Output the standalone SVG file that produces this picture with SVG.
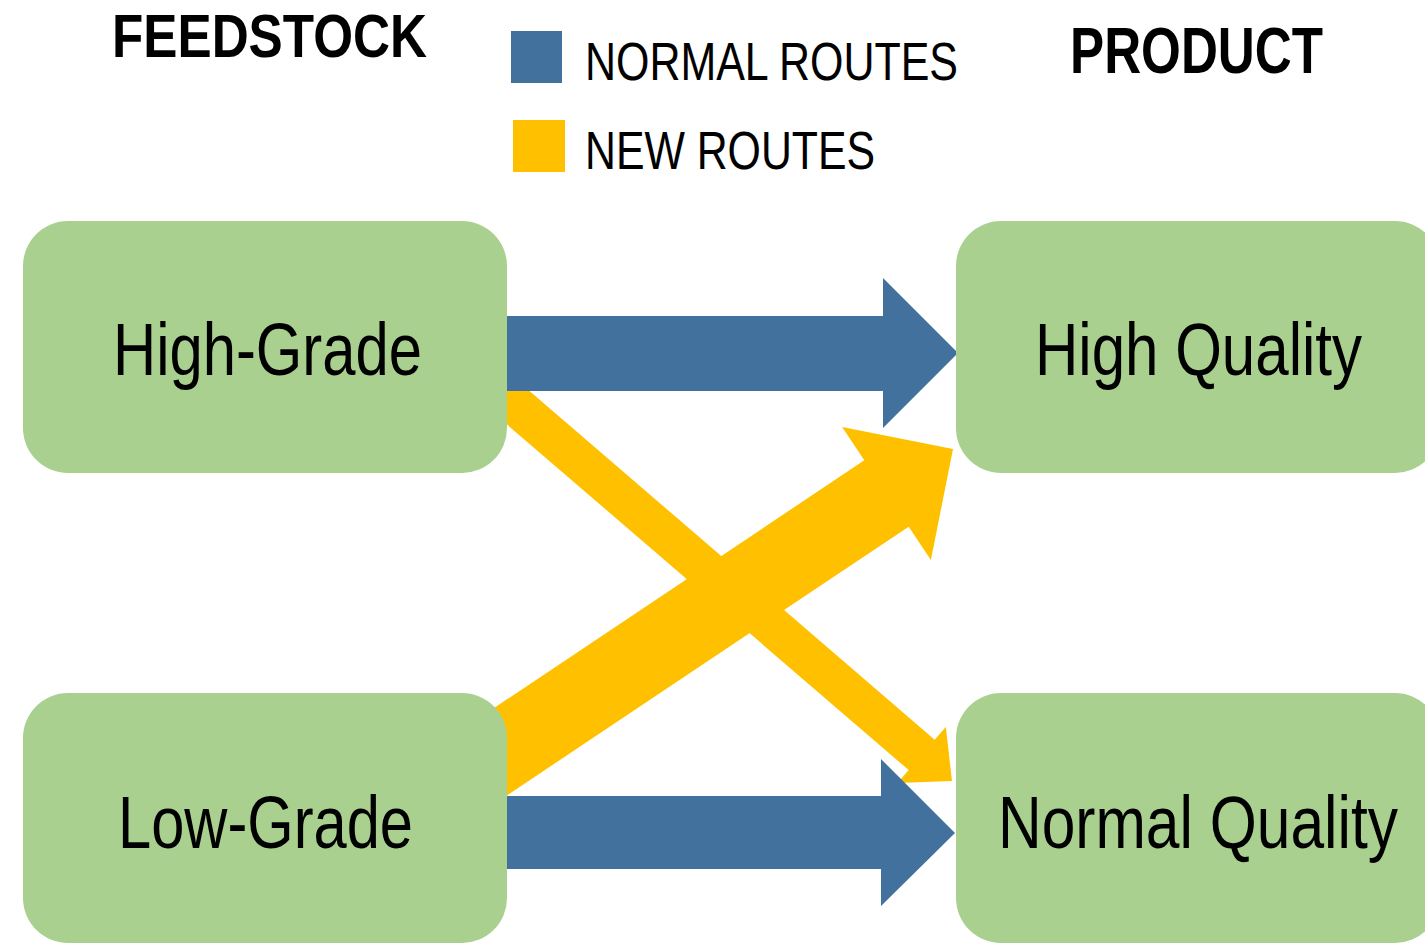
<svg xmlns="http://www.w3.org/2000/svg" width="1425" height="943" viewBox="0 0 1425 943">
<style>
.node{fill:#A9D08E;}
.blue{fill:#41719C;}
.yellow{fill:#FFC000;}
.lbl{font-family:"Liberation Sans",Arial,sans-serif;font-size:74px;fill:#000;}
.hdr{font-family:"Liberation Sans",Arial,sans-serif;font-weight:bold;fill:#000;}
.leg{font-family:"Liberation Sans",Arial,sans-serif;font-size:53px;fill:#000;}
</style>
<rect width="1425" height="943" fill="#FFFFFF"/>
<g id="headers">
<text class="hdr" x="112" y="57" font-size="61" textLength="315" lengthAdjust="spacingAndGlyphs">FEEDSTOCK</text>
<text class="hdr" x="1070" y="73" font-size="65" textLength="253" lengthAdjust="spacingAndGlyphs">PRODUCT</text>
</g>
<g id="legend">
<rect class="blue" x="511" y="31" width="51" height="52"/>
<text class="leg" x="585" y="80" textLength="373" lengthAdjust="spacingAndGlyphs">NORMAL ROUTES</text>
<rect class="yellow" x="513" y="120" width="52" height="52"/>
<text class="leg" x="585" y="169" textLength="290" lengthAdjust="spacingAndGlyphs">NEW ROUTES</text>
</g>
<g id="connectors">
<polygon class="yellow" points="483,351 934.7,739.7 945.8,726.9 952,781 897.6,782.9 908.7,770.1 457,381.5"/>
<polygon class="yellow" points="447.8,738.9 864.3,460.3 842.1,427 953,449 930.9,560 908.7,526.7 492.2,805.3"/>
<polygon class="blue" points="470,316 883,316 883,278 958,353 883,428 883,391 470,391"/>
<polygon class="blue" points="470,796 881,796 881,759 955,833 881,906 881,869 470,869"/>
</g>
<g id="node-high-grade">
<rect class="node" x="23" y="221" width="484" height="252" rx="45" ry="45"/>
<text class="lbl" x="113" y="375" textLength="309" lengthAdjust="spacingAndGlyphs">High-Grade</text>
</g>
<g id="node-low-grade">
<rect class="node" x="23" y="693" width="484" height="250" rx="45" ry="45"/>
<text class="lbl" x="118" y="848" textLength="295" lengthAdjust="spacingAndGlyphs">Low-Grade</text>
</g>
<g id="node-high-quality">
<rect class="node" x="956" y="221" width="484" height="252" rx="45" ry="45"/>
<text class="lbl" x="1035" y="375" textLength="327" lengthAdjust="spacingAndGlyphs">High Quality</text>
</g>
<g id="node-normal-quality">
<rect class="node" x="956" y="693" width="484" height="250" rx="45" ry="45"/>
<text class="lbl" x="998" y="848" textLength="400" lengthAdjust="spacingAndGlyphs">Normal Quality</text>
</g>
</svg>
